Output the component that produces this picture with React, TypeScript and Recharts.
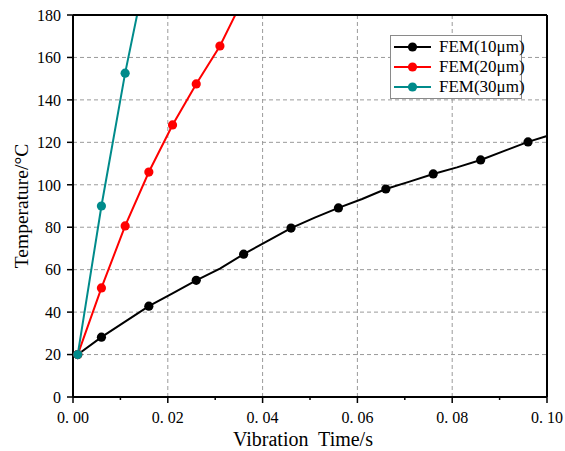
import {
  CartesianGrid,
  Legend,
  Line,
  LineChart,
  XAxis,
  YAxis,
} from "recharts"

const FONT = "'Liberation Serif', 'Times New Roman', serif"

// FEM 10 µm: line vertices every 0.005 s, markers only on some of them
const fem10Times = [
  0.001, 0.006, 0.011, 0.016, 0.021, 0.026, 0.031, 0.036, 0.041, 0.046, 0.051,
  0.056, 0.061, 0.066, 0.071, 0.076, 0.081, 0.086, 0.091, 0.096, 0.1,
]
const fem10Temps = [
  20, 28.2, 35.5, 42.8, 48.8, 55, 60.5, 67.3, 73.5, 79.6, 84.5, 89.1, 93.3, 98,
  101.5, 105.1, 108.2, 111.7, 116, 120.2, 123,
]
const fem10Markers = [
  true, true, false, true, false, true, false, true, false, true, false, true,
  false, true, false, true, false, true, false, true, false,
]

const fem20Times = [0.001, 0.006, 0.011, 0.016, 0.021, 0.026, 0.031, 0.036]
const fem20Temps = [20, 51.4, 80.6, 106, 128.2, 147.5, 165.4, 188]
const fem20Markers = [true, true, true, true, true, true, true, false]

const fem30Times = [0.001, 0.006, 0.011, 0.016]
const fem30Temps = [20, 90, 152.6, 207]
const fem30Markers = [true, true, true, false]

const xTicks = [0, 0.01, 0.02, 0.03, 0.04, 0.05, 0.06, 0.07, 0.08, 0.09, 0.1]
const xGrid = [0.02, 0.04, 0.06, 0.08]
const yTicks = [0, 20, 40, 60, 80, 100, 120, 140, 160, 180]
const yGrid = [20, 40, 60, 80, 100, 120, 140, 160]

type Point = { t: number; v: number; m: boolean }

const toPoints = (ts: number[], vs: number[], ms: boolean[]): Point[] =>
  ts.map((t, i) => ({ t, v: vs[i], m: ms[i] }))

const series = [
  { name: "FEM(10μm)", color: "#000000", data: toPoints(fem10Times, fem10Temps, fem10Markers) },
  { name: "FEM(20μm)", color: "#ff0000", data: toPoints(fem20Times, fem20Temps, fem20Markers) },
  { name: "FEM(30μm)", color: "#008b8b", data: toPoints(fem30Times, fem30Temps, fem30Markers) },
]

const isMajorX = (v: number) => Math.round(v * 100) % 2 === 0

const makeDot = (color: string) => (props: any) => {
  const { cx, cy, payload, index } = props
  if (!payload?.m || cx == null || cy == null) return <g key={`d-${index}`} />
  return <circle key={`d-${index}`} cx={cx} cy={cy} r={4.6} fill={color} stroke="none" />
}

// tickSize/tickMargin are 0, so x/y are the axis line position; ticks drawn here
const BottomTick = (props: any) => {
  const { x, y, payload } = props
  const v = payload.value as number
  const major = isMajorX(v)
  return (
    <g>
      <line x1={x} x2={x} y1={y} y2={y + (major ? 6 : 3)} stroke="#000" strokeWidth={1.5} />
      {major && (
        <text x={x} y={y + 26} textAnchor="middle" fontSize={16} fontFamily={FONT} fill="#000">
          {v.toFixed(2).replace(".", ". ")}
        </text>
      )}
    </g>
  )
}

const TopTick = (props: any) => {
  const { x, y, payload } = props
  const major = isMajorX(payload.value)
  return <line x1={x} x2={x} y1={y} y2={y + (major ? 6 : 4)} stroke="#000" strokeWidth={1.5} />
}

const LeftTick = (props: any) => {
  const { x, y, payload } = props
  return (
    <g>
      <line x1={x - 6} x2={x} y1={y} y2={y} stroke="#000" strokeWidth={1.5} />
      <text x={x - 12} y={y} dy="0.36em" textAnchor="end" fontSize={16} fontFamily={FONT} fill="#000">
        {payload.value}
      </text>
    </g>
  )
}

const RightTick = (props: any) => {
  const { x, y } = props
  return <line x1={x - 6} x2={x} y1={y} y2={y} stroke="#000" strokeWidth={1.5} />
}

const XTitle = (props: any) => {
  const vb = props.viewBox ?? { x: 73, y: 397, width: 474, height: 50 }
  return (
    <text
      x={vb.x + vb.width / 2 - 7}
      y={vb.y + 49}
      textAnchor="middle"
      fontSize={20}
      fontFamily={FONT}
      fill="#000"
    >
      {"Vibration\u00a0 Time/s"}
    </text>
  )
}

const YTitle = (props: any) => {
  const vb = props.viewBox ?? { x: 0, y: 15, width: 73, height: 382 }
  const cx = 21
  const cy = vb.y + vb.height / 2
  return (
    <text
      x={cx}
      y={cy}
      transform={`rotate(-90, ${cx}, ${cy})`}
      textAnchor="middle"
      dominantBaseline="central"
      fontSize={19.5}
      fontFamily={FONT}
      fill="#000"
    >
      Temperature/°C
    </text>
  )
}

const LegendBox = () => (
  <div
    style={{
      border: "1px solid #8a8a8a",
      background: "#fff",
      padding: "1px 6px 1px 2px",
      fontFamily: FONT,
      fontSize: 17,
      color: "#000",
      width: 122,
    }}
  >
    {series.map((s) => (
      <div key={s.name} style={{ display: "flex", alignItems: "center", height: 20 }}>
        <svg width={44} height={12} style={{ flex: "none" }}>
          <line x1={1} y1={6} x2={38} y2={6} stroke={s.color} strokeWidth={2} />
          <circle cx={19.5} cy={6} r={4.6} fill={s.color} />
        </svg>
        <span style={{ marginLeft: 2, whiteSpace: "nowrap" }}>{s.name}</span>
      </div>
    ))}
  </div>
)

const axisLine = { stroke: "#000", strokeWidth: 2 }

export default function App() {
  return (
    <div style={{ position: "absolute", left: 0, top: 0, width: 565, height: 451, background: "#fff" }}>
      <LineChart width={565} height={451} margin={{ top: 14, right: 17, bottom: 4, left: 0 }}>
        <CartesianGrid
          stroke="#9a9a9a"
          strokeDasharray="4 3"
          horizontalValues={yGrid}
          verticalValues={xGrid}
        />
        <XAxis
          dataKey="t"
          type="number"
          domain={[0, 0.1]}
          ticks={xTicks}
          interval={0}
          height={50}
          tick={<BottomTick />}
          tickSize={0}
          tickMargin={0}
          tickLine={false}
          axisLine={axisLine}
          label={{ content: <XTitle /> }}
        />
        <XAxis
          xAxisId="top"
          orientation="top"
          dataKey="t"
          type="number"
          domain={[0, 0.1]}
          ticks={xTicks}
          interval={0}
          height={1}
          tick={<TopTick />}
          tickSize={0}
          tickMargin={0}
          tickLine={false}
          axisLine={axisLine}
        />
        <YAxis
          type="number"
          domain={[0, 180]}
          ticks={yTicks}
          interval={0}
          allowDataOverflow
          width={73}
          tick={<LeftTick />}
          tickSize={0}
          tickMargin={0}
          tickLine={false}
          axisLine={axisLine}
          label={{ content: <YTitle /> }}
        />
        <YAxis
          yAxisId="right"
          orientation="right"
          type="number"
          domain={[0, 180]}
          ticks={yTicks}
          interval={0}
          width={1}
          tick={<RightTick />}
          tickSize={0}
          tickMargin={0}
          tickLine={false}
          axisLine={axisLine}
        />
        <Legend
          layout="vertical"
          align="center"
          verticalAlign="middle"
          wrapperStyle={{ left: 390, top: 35, width: "auto" }}
          content={() => <LegendBox />}
        />
        {series.map((s) => (
          <Line
            key={s.name}
            data={s.data}
            dataKey="v"
            name={s.name}
            type="linear"
            stroke={s.color}
            strokeWidth={2}
            dot={makeDot(s.color)}
            activeDot={false}
            isAnimationActive={false}
          />
        ))}
      </LineChart>
    </div>
  )
}
